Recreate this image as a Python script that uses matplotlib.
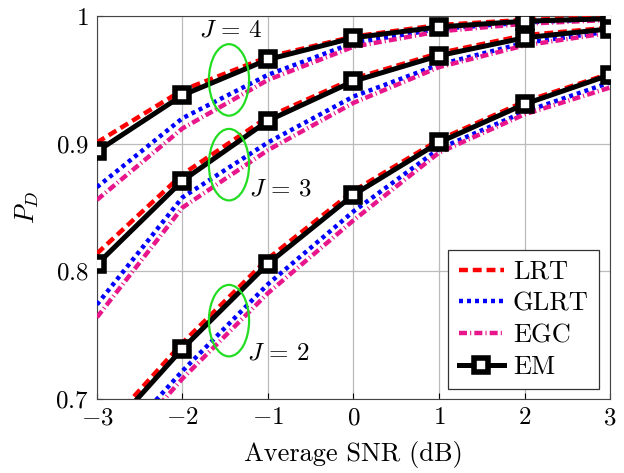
import numpy as np
from matplotlib import pyplot as plt
from matplotlib.patches import Ellipse

plt.rcParams['font.family'] = 'serif'
plt.rcParams['font.serif'] = ['cmr10', 'DejaVu Serif']
plt.rcParams['mathtext.fontset'] = 'cm'
plt.rcParams['axes.formatter.use_mathtext'] = True

# data
snr = [-3, -2, -1, 0, 1, 2, 3]

lrt_j4 = [0.901, 0.942, 0.968, 0.984, 0.993, 0.997, 0.999]
glrt_j4 = [0.866, 0.920, 0.954, 0.979, 0.990, 0.995, 0.998]
egc_j4 = [0.856, 0.912, 0.950, 0.976, 0.988, 0.994, 0.997]
em_j4 = [0.894, 0.938, 0.966, 0.983, 0.9915, 0.996, 0.998]

lrt_j3 = [0.814, 0.876, 0.921, 0.951, 0.971, 0.985, 0.991]
glrt_j3 = [0.774, 0.858, 0.901, 0.937, 0.962, 0.979, 0.988]
egc_j3 = [0.764, 0.850, 0.895, 0.932, 0.960, 0.977, 0.987]
em_j3 = [0.8055, 0.871, 0.918, 0.949, 0.969, 0.983, 0.990]

lrt_j2 = [0.670, 0.744, 0.810, 0.863, 0.903, 0.933, 0.955]
glrt_j2 = [0.648, 0.722, 0.790, 0.847, 0.896, 0.925, 0.948]
egc_j2 = [0.640, 0.716, 0.783, 0.840, 0.893, 0.923, 0.944]
em_j2 = [0.665, 0.7395, 0.806, 0.860, 0.901, 0.931, 0.954]

magenta = '#E8168A'

fig = plt.figure(figsize=(6.24, 4.73), dpi=100)
ax = fig.add_axes([0.1554, 0.1564, 0.8222, 0.8096])

series = [(lrt_j4, glrt_j4, egc_j4, em_j4),
          (lrt_j3, glrt_j3, egc_j3, em_j3),
          (lrt_j2, glrt_j2, egc_j2, em_j2)]
for i, (lrt, glrt, egc, em) in enumerate(series):
    ax.plot(snr, lrt, color='red', ls=(0, (2.0, 1.1)), lw=3.2, label='LRT' if i == 0 else None, zorder=3)
    ax.plot(snr, glrt, color='blue', ls=(0, (0.9, 0.9)), lw=3.2, label='GLRT' if i == 0 else None, zorder=3)
    ax.plot(snr, egc, color=magenta, ls=(0, (1.8, 0.7, 0.25, 0.7)), lw=3.2, label='EGC' if i == 0 else None, zorder=3)
    ax.plot(snr, em, color='black', lw=3.6, marker='s', ms=9.7, mfc='white', mec='black', mew=4,
            label='EM' if i == 0 else None, zorder=4)

# ellipses around the curve groups
for yc in [0.950, 0.8836, 0.7614]:
    ax.add_patch(Ellipse((-1.456, yc), 0.47, 0.056, fill=False, ec='#22DD22', lw=1.6, zorder=5))

ax.text(-1.44, 0.989, r'$J\,=\,4$', fontsize=18, ha='center', va='center')
ax.text(-0.86, 0.864, r'$J\,=\,3$', fontsize=18, ha='center', va='center')
ax.text(-0.88, 0.736, r'$J\,=\,2$', fontsize=18, ha='center', va='center')

ax.set_xlim(-3, 3)
ax.set_ylim(0.7, 1.0)
ax.set_xticks(snr)
ax.set_xticklabels(['$-3$', '$-2$', '$-1$', '$0$', '$1$', '$2$', '$3$'])
ax.set_yticks([0.7, 0.8, 0.9, 1.0])
ax.set_yticklabels(['$0.7$', '$0.8$', '$0.9$', '$1$'])
ax.tick_params(labelsize=18, direction='in', length=4)
ax.tick_params(axis='x', pad=6)
ax.tick_params(axis='y', pad=6)
ax.grid(True, color='#BBBBBB', lw=0.9)
ax.set_axisbelow(True)
for s in ax.spines.values():
    s.set_color('#444444')
ax.set_xlabel('Average SNR (dB)', fontsize=19, labelpad=8)
ax.set_ylabel('$P_D$', fontsize=19, labelpad=10)

leg = ax.legend(loc='lower right', fontsize=19, fancybox=False, edgecolor='#333333',
                framealpha=1, handlelength=1.7, handletextpad=0.35, borderpad=0.4,
                labelspacing=0.3, borderaxespad=0, bbox_to_anchor=(0.979, 0.025))
leg.get_frame().set_linewidth(0.9)

fig.savefig('out.png', dpi=100)
